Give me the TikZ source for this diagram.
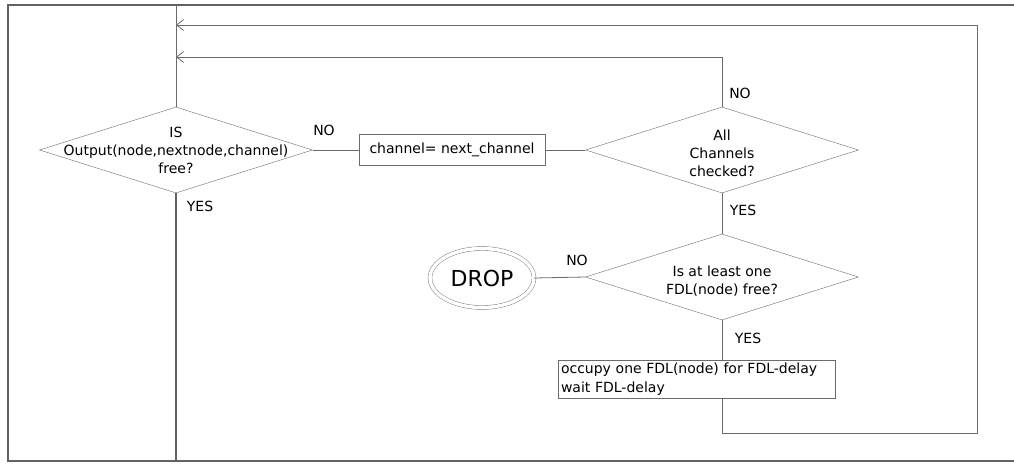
\documentclass[tikz,border=0pt]{standalone}
\usepackage{fontspec}
\setmainfont{DejaVu Sans}
\usetikzlibrary{arrows.meta,positioning,shapes.geometric}
\definecolor{linegray}{gray}{0.42}
\definecolor{framegray}{gray}{0.38}

\begin{document}
\begin{tikzpicture}[
  x=1pt,y=-1pt,
  font=\fontsize{14}{18}\selectfont,
  dec/.style={diamond,draw=linegray,minimum width=273pt,minimum height=86pt,
              inner sep=0pt},
  dtext/.style={align=center,inner sep=0pt},
  proc/.style={rectangle,draw=linegray,inner sep=3pt},
  term/.style={ellipse,draw=linegray,double,double distance=3.5pt,
               minimum width=104pt,minimum height=59pt,inner sep=0pt,
               font=\fontsize{22}{26}\selectfont},
  lbl/.style={inner sep=0pt},
  arr/.style={draw=linegray,line width=0.8pt},
  back/.style={arr,-{Straight Barb[length=7pt,width=11pt]}}
]
  \useasboundingbox (0,0) rectangle (1014,463);
  % frame
  \draw[framegray,line width=1.6pt] (1014,5) -- (8,5) -- (8,461) -- (1014,461);

  % decisions
  \node[dec] (d1) at (176,150) {};
  \node[dtext] (d1t) at (d1) {IS\\Output(node,nextnode,channel)\\free?};
  \node[dec] (d2) at (722,150) {};
  \node[dtext] (d2t) at ([yshift=-3pt]d2.center) {All\\Channels\\checked?};
  \node[dec] (d3) at (722,277) {};
  \node[dtext] (d3t) at ([yshift=-4pt]d3.center) {Is at least one\\FDL(node) free?};

  % processes
  \node[proc,minimum width=186pt,minimum height=31pt] (ch) at (452,150)
    {channel= next\_channel};
  \node[proc,minimum height=36pt,text width=271pt,align=left,
        font=\fontsize{14}{19}\selectfont] (occ) at (696.5,379)
    {occupy one FDL(node) for FDL-delay\\wait FDL-delay};
  \node[term] (drop) at (482,278) {DROP};

  % helper points
  \coordinate (top) at (176,5);
  \coordinate (bot) at (176,461);
  \coordinate (in)  at (176,57);
  \coordinate (out) at (176,25);
  \coordinate (c1)  at (977,433);

  % connectors
  \draw[arr] (top) -- (d1.north);
  \draw[framegray,line width=1.6pt] (d1.south) -- (bot);
  \draw[arr] (d1.east) -- (ch.west);
  \draw[arr] (ch.east) -- (d2.west);
  \draw[arr] (d2.south) -- (d3.north);
  \draw[arr] (d3.west) -- (drop.east);
  \draw[arr] (d3.south) -- (d3.south |- occ.north);
  \draw[back] (d2.north) |- (in);
  \draw[back] (occ.south -| d3.south) |- (c1) |- (out);

  % branch labels
  \node[lbl] (no1)  at (324,130) {NO};
  \node[lbl] (yes1) at (200,206) {YES};
  \node[lbl] (no2)  at (740,93)  {NO};
  \node[lbl] (yes2) at (743,210) {YES};
  \node[lbl] (no3)  at (577,260) {NO};
  \node[lbl] (yes3) at (748,338) {YES};
\end{tikzpicture}
\end{document}
